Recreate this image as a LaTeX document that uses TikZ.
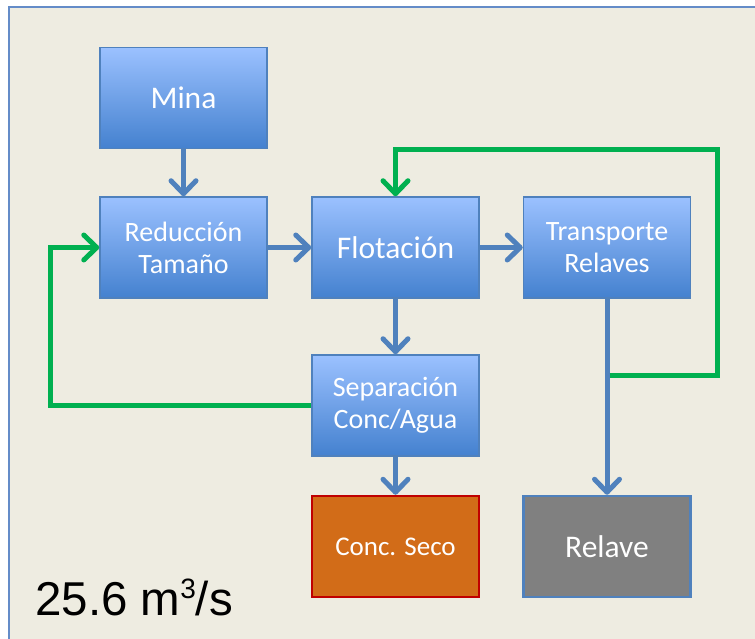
\documentclass[tikz,border=0pt]{standalone}
\usepackage{fontspec}
\setmainfont{Carlito}
\newfontfamily\arialfont{Liberation Sans}
\usetikzlibrary{arrows.meta}
\definecolor{bgc}{RGB}{238,236,225}
\definecolor{framec}{RGB}{100,140,200}
\definecolor{boxtop}{RGB}{155,193,255}
\definecolor{boxbot}{RGB}{68,129,207}
\definecolor{boxline}{RGB}{79,129,189}
\definecolor{flowblue}{RGB}{79,129,189}
\definecolor{flowgreen}{RGB}{0,176,80}
\definecolor{concfill}{RGB}{210,108,24}
\definecolor{concline}{RGB}{192,0,0}
\definecolor{relfill}{RGB}{128,128,128}
\tikzset{
  procbox/.style={rectangle, minimum width=167pt, minimum height=101pt, inner sep=0pt,
    top color=boxtop, bottom color=boxbot, draw=boxline, line width=1.5pt,
    text=white, align=center},
  bigtxt/.style={font=\fontsize{31.5}{34}\selectfont},
  smalltxt/.style={font=\fontsize{28}{32}\selectfont},
  flowtip/.style={-{Straight Barb[length=13pt,width=25pt,round]}},
  blueflow/.style={draw=flowblue, line width=5pt, flowtip},
  greenflow/.style={draw=flowgreen, line width=5pt, flowtip},
}
\begin{document}
\begin{tikzpicture}[x=1pt,y=-1pt]
\useasboundingbox (0,0) rectangle (755,639);
\clip (0,0) rectangle (755,639);
\fill[white] (0,0) rectangle (755,639);
\draw[framec, fill=bgc, line width=2pt] (9,7) rectangle (780,670);

\node[procbox, bigtxt] (mina) at (183.5,98) {Mina};
\node[procbox, smalltxt] (red) at (183.5,247.5) {Reducción\\Tamaño};
\node[procbox, bigtxt] (flot) at (395.5,247.5) {Flotación};
\node[procbox, smalltxt] (trans) at (607,247.5) {Transporte\\Relaves};
\node[procbox, smalltxt] (sep) at (395.5,405.5) {Separación\\Conc/Agua};
\node[rectangle, minimum width=167pt, minimum height=101pt, inner sep=0pt,
  fill=concfill, draw=concline, line width=2.5pt, text=white,
  font=\fontsize{27}{30}\selectfont] (conc) at (395.5,546.5) {Conc. Seco};
\node[rectangle, minimum width=167pt, minimum height=101pt, inner sep=0pt,
  fill=relfill, draw=boxline, line width=2.5pt, text=white, bigtxt] (relave) at (607,546.5) {Relave};

\node[anchor=base west, inner sep=0pt, font=\arialfont\fontsize{47.5}{50}\selectfont] (flow) at (35,615)
  {25.6 m\raisebox{17pt}{\arialfont\fontsize{28}{28}\selectfont 3}/s};

\path[blueflow] (mina) -- (red);
\path[blueflow] (red) -- (flot);
\path[blueflow] (flot) -- (trans);
\path[blueflow] (flot) -- (sep);
\path[blueflow] (sep) -- (conc);
\path[blueflow] (trans) -- (relave);

\coordinate (gl) at (50,330);
\coordinate (j) at (trans.south |- {(0,375)});
\coordinate (gr1) at (717,375);
\coordinate (gr2) at (717,150);
\path[greenflow] (sep.west) -| (gl) |- (red.west);
\path[greenflow] ([xshift=2.5pt]j) -- (gr1) -- (gr2) -| (flot.north);
\end{tikzpicture}
\end{document}
